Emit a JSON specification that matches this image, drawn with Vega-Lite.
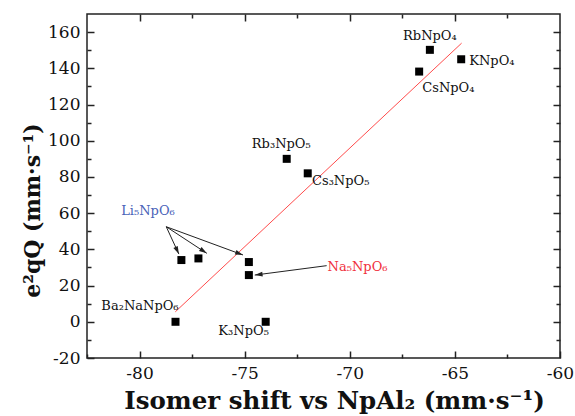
{
  "$schema": "https://vega.github.io/schema/vega-lite/v6.json",
  "width": 473,
  "height": 344,
  "autosize": "none",
  "padding": {"left": 87, "top": 14, "right": 15, "bottom": 58},
  "background": "white",
  "config": {
    "view": {"stroke": "#222", "strokeWidth": 1.5},
    "axis": {
      "domain": false,
      "grid": false,
      "tickColor": "#222",
      "tickWidth": 1.5,
      "labelFont": "DejaVu Serif",
      "labelFontSize": 17,
      "labelColor": "#111",
      "titleFont": "DejaVu Serif",
      "titleFontWeight": "bold",
      "titleColor": "#111",
      "labelFlush": false
    }
  },
  "datasets": {
    "points": [
      {"compound": "Ba2NaNpO6", "x": -78.29, "y": 0},
      {"compound": "Li5NpO6", "x": -78.01, "y": 34.1},
      {"compound": "Li5NpO6", "x": -77.2, "y": 35},
      {"compound": "Li5NpO6", "x": -74.8, "y": 33},
      {"compound": "Na5NpO6", "x": -74.8, "y": 25.8},
      {"compound": "K3NpO5", "x": -74.0, "y": 0},
      {"compound": "Rb3NpO5", "x": -73.0, "y": 90},
      {"compound": "Cs3NpO5", "x": -72.0, "y": 82},
      {"compound": "CsNpO4", "x": -66.7, "y": 138.2},
      {"compound": "RbNpO4", "x": -66.19, "y": 150.2},
      {"compound": "KNpO4", "x": -64.7, "y": 145}
    ],
    "fit": [
      {"x": -78.3, "y": 5.5},
      {"x": -64.68, "y": 153.9}
    ],
    "arrows": [
      {"id": "a1", "x1": -78.73, "y1": 52.5, "x2": -78.13, "y2": 37.4},
      {"id": "a2", "x1": -78.73, "y1": 52.5, "x2": -76.8, "y2": 37.8},
      {"id": "a3", "x1": -78.73, "y1": 52.5, "x2": -75.08, "y2": 36.9},
      {"id": "na", "x1": -71.1, "y1": 31, "x2": -74.52, "y2": 25.8}
    ],
    "labels": [
      {"label": "RbNpO₄", "lx": -66.19, "ly": 155.7},
      {"label": "KNpO₄", "lx": -63.24, "ly": 141.9},
      {"label": "CsNpO₄", "lx": -65.31, "ly": 127.1},
      {"label": "Rb₃NpO₅", "lx": -73.26, "ly": 95.9},
      {"label": "Cs₃NpO₅", "lx": -70.43, "ly": 75.6},
      {"label": "Li₅NpO₆", "lx": -79.6, "ly": 59.0},
      {"label": "Na₅NpO₆", "lx": -69.63, "ly": 28.2},
      {"label": "Ba₂NaNpO₆", "lx": -79.98, "ly": 6.5},
      {"label": "K₃NpO₅", "lx": -75.05, "ly": -7.4}
    ]
  },
  "layer": [
    {
      "data": {"name": "fit"},
      "mark": {"type": "line", "color": "#ff4b4b", "strokeWidth": 1},
      "encoding": {
        "x": {"field": "x", "type": "quantitative", "scale": {"domain": [-82.5, -60], "nice": false, "zero": false}, "axis": null},
        "y": {"field": "y", "type": "quantitative", "scale": {"domain": [-20, 170], "nice": false, "zero": false}, "axis": null}
      }
    },
    {
      "data": {"name": "points"},
      "mark": {"type": "square", "size": 64, "color": "#000", "opacity": 1},
      "encoding": {
        "x": {"field": "x", "type": "quantitative", "scale": {"domain": [-82.5, -60], "nice": false, "zero": false},
          "axis": {"orient": "bottom", "offset": -7, "values": [-80, -75, -70, -65, -60], "tickSize": 7, "labelPadding": 7, "labelExpr": "'' + datum.value",
            "title": "Isomer shift vs NpAl₂ (mm·s⁻¹)", "titleFontSize": 24.5, "titleX": 247, "titleY": 57, "titleBaseline": "alphabetic"}},
        "y": {"field": "y", "type": "quantitative", "scale": {"domain": [-20, 170], "nice": false, "zero": false},
          "axis": {"orient": "left", "offset": -7, "values": [-20, 0, 20, 40, 60, 80, 100, 120, 140, 160], "tickSize": 7, "labelPadding": 7, "labelExpr": "'' + datum.value",
            "title": "e²qQ (mm·s⁻¹)", "titleFontSize": 22, "titleX": -55, "titleY": 196, "titleBaseline": "alphabetic"}}
      }
    },
    {
      "data": {"name": "points"},
      "mark": {"type": "point", "opacity": 0},
      "encoding": {
        "x": {"field": "x", "type": "quantitative", "scale": {"domain": [-82.5, -60], "nice": false, "zero": false},
          "axis": {"orient": "bottom", "offset": -4, "values": [-82.5, -77.5, -72.5, -67.5, -62.5], "tickSize": 4, "labels": false, "title": null}},
        "y": {"field": "y", "type": "quantitative", "scale": {"domain": [-20, 170], "nice": false, "zero": false},
          "axis": {"orient": "left", "offset": -4, "values": [-10, 10, 30, 50, 70, 90, 110, 130, 150], "tickSize": 4, "labels": false, "title": null}}
      }
    },
    {
      "data": {"name": "points"},
      "mark": {"type": "point", "opacity": 0},
      "encoding": {
        "x": {"field": "x", "type": "quantitative", "scale": {"domain": [-82.5, -60], "nice": false, "zero": false},
          "axis": {"orient": "top", "offset": -7, "values": [-80, -75, -70, -65], "tickSize": 7, "labels": false, "title": null}},
        "y": {"field": "y", "type": "quantitative", "scale": {"domain": [-20, 170], "nice": false, "zero": false},
          "axis": {"orient": "right", "offset": -7, "values": [0, 20, 40, 60, 80, 100, 120, 140, 160], "tickSize": 7, "labels": false, "title": null}}
      }
    },
    {
      "data": {"name": "points"},
      "mark": {"type": "point", "opacity": 0},
      "encoding": {
        "x": {"field": "x", "type": "quantitative", "scale": {"domain": [-82.5, -60], "nice": false, "zero": false},
          "axis": {"orient": "top", "offset": -4, "values": [-77.5, -72.5, -67.5, -62.5], "tickSize": 4, "labels": false, "title": null}},
        "y": {"field": "y", "type": "quantitative", "scale": {"domain": [-20, 170], "nice": false, "zero": false},
          "axis": {"orient": "right", "offset": -4, "values": [-10, 10, 30, 50, 70, 90, 110, 130, 150], "tickSize": 4, "labels": false, "title": null}}
      }
    },
    {
      "data": {"name": "arrows"},
      "mark": {"type": "rule", "color": "#222", "strokeWidth": 1},
      "encoding": {
        "x": {"field": "x1", "type": "quantitative", "scale": {"domain": [-82.5, -60], "nice": false, "zero": false}, "axis": null},
        "x2": {"field": "x2"},
        "y": {"field": "y1", "type": "quantitative", "scale": {"domain": [-20, 170], "nice": false, "zero": false}, "axis": null},
        "y2": {"field": "y2"}
      }
    },
    {
      "data": {"name": "arrows"},
      "transform": [{"filter": "datum.id == 'a1'"}],
      "mark": {"type": "point", "shape": "M0,0L-0.8,2.6L0.8,2.6Z", "size": 36, "filled": true, "color": "#222", "opacity": 1, "angle": 155},
      "encoding": {
        "x": {"field": "x2", "type": "quantitative", "scale": {"domain": [-82.5, -60], "nice": false, "zero": false}, "axis": null},
        "y": {"field": "y2", "type": "quantitative", "scale": {"domain": [-20, 170], "nice": false, "zero": false}, "axis": null}
      }
    },
    {
      "data": {"name": "arrows"},
      "transform": [{"filter": "datum.id == 'a2'"}],
      "mark": {"type": "point", "shape": "M0,0L-0.8,2.6L0.8,2.6Z", "size": 36, "filled": true, "color": "#222", "opacity": 1, "angle": 123},
      "encoding": {
        "x": {"field": "x2", "type": "quantitative", "scale": {"domain": [-82.5, -60], "nice": false, "zero": false}, "axis": null},
        "y": {"field": "y2", "type": "quantitative", "scale": {"domain": [-20, 170], "nice": false, "zero": false}, "axis": null}
      }
    },
    {
      "data": {"name": "arrows"},
      "transform": [{"filter": "datum.id == 'a3'"}],
      "mark": {"type": "point", "shape": "M0,0L-0.8,2.6L0.8,2.6Z", "size": 36, "filled": true, "color": "#222", "opacity": 1, "angle": 110},
      "encoding": {
        "x": {"field": "x2", "type": "quantitative", "scale": {"domain": [-82.5, -60], "nice": false, "zero": false}, "axis": null},
        "y": {"field": "y2", "type": "quantitative", "scale": {"domain": [-20, 170], "nice": false, "zero": false}, "axis": null}
      }
    },
    {
      "data": {"name": "arrows"},
      "transform": [{"filter": "datum.id == 'na'"}],
      "mark": {"type": "point", "shape": "M0,0L-0.8,2.6L0.8,2.6Z", "size": 36, "filled": true, "color": "#222", "opacity": 1, "angle": 263},
      "encoding": {
        "x": {"field": "x2", "type": "quantitative", "scale": {"domain": [-82.5, -60], "nice": false, "zero": false}, "axis": null},
        "y": {"field": "y2", "type": "quantitative", "scale": {"domain": [-20, 170], "nice": false, "zero": false}, "axis": null}
      }
    },
    {
      "data": {"name": "labels"},
      "mark": {"type": "text", "font": "DejaVu Serif", "fontSize": 13, "baseline": "alphabetic", "align": "center"},
      "encoding": {
        "x": {"field": "lx", "type": "quantitative", "scale": {"domain": [-82.5, -60], "nice": false, "zero": false}, "axis": null},
        "y": {"field": "ly", "type": "quantitative", "scale": {"domain": [-20, 170], "nice": false, "zero": false}, "axis": null},
        "text": {"field": "label"},
        "color": {"field": "label", "type": "nominal", "legend": null,
          "scale": {"domain": ["RbNpO₄", "KNpO₄", "CsNpO₄", "Rb₃NpO₅", "Cs₃NpO₅", "Li₅NpO₆", "Na₅NpO₆", "Ba₂NaNpO₆", "K₃NpO₅"],
                    "range": ["#111", "#111", "#111", "#111", "#111", "#4a63b8", "#f0303c", "#111", "#111"]}}
      }
    }
  ],
  "resolve": {"axis": {"x": "independent", "y": "independent"}}
}
